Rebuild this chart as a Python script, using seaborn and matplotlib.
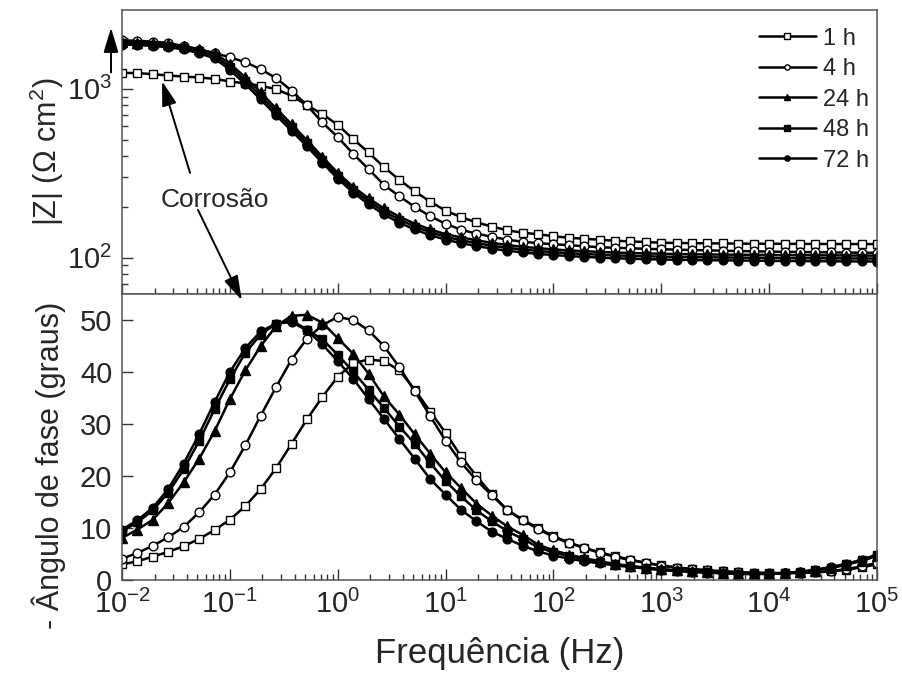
import matplotlib
matplotlib.use('Agg')
import matplotlib.pyplot as plt
import seaborn as sns
import numpy as np
from matplotlib.ticker import LogLocator, NullFormatter

sns.set_theme(style="ticks")
plt.rcParams['font.family'] = ['Liberation Sans', 'DejaVu Sans']
plt.rcParams['mathtext.fontset'] = 'custom'
plt.rcParams['mathtext.rm'] = 'Liberation Sans'
plt.rcParams['mathtext.it'] = 'Liberation Sans:italic'
plt.rcParams['mathtext.bf'] = 'Liberation Sans:bold'

# Frequency grid (Hz), 7 points per decade
freq = [0.01, 0.0139, 0.0193, 0.0268, 0.0373, 0.0518, 0.072,
        0.1, 0.139, 0.193, 0.268, 0.373, 0.518, 0.72,
        1.0, 1.39, 1.93, 2.68, 3.73, 5.18, 7.2,
        10, 13.9, 19.3, 26.8, 37.3, 51.8, 72,
        100, 139, 193, 268, 373, 518, 720,
        1000, 1390, 1930, 2680, 3730, 5180, 7200,
        10000, 13900, 19300, 26800, 37300, 51800, 72000,
        100000]

# |Z| (ohm cm2)
z_1h = [1244, 1239, 1222, 1199, 1183, 1167, 1146, 1105, 1078, 1042,
        996, 909, 799, 709, 612, 504, 420, 344, 289, 247,
        215, 190, 174, 162, 153, 145.5, 140.6, 137.8, 134.1, 131.3,
        129.6, 127.8, 126.1, 124.9, 123.9, 122.7, 122.3, 122.0, 121.7, 121.5,
        121.3, 121.1, 121.0, 120.9, 120.8, 120.7, 120.6, 120.5, 120.5, 120.4]
z_4h = [1936, 1925, 1905, 1868, 1790, 1705, 1626, 1539, 1437, 1308,
        1157, 977, 799, 632, 518, 412, 335, 270, 231, 200,
        176, 159, 146.5, 139, 133, 128, 124.4, 122, 120.3, 118.7,
        117, 115.4, 114.6, 113.8, 113, 112.3, 111.7, 111.1, 110.6, 110.1,
        109.6, 109.2, 108.8, 108.4, 108.1, 107.8, 107.5, 107.3, 107.1, 107.0]
z_24h = [1890, 1880, 1858, 1836, 1792, 1718, 1625, 1410, 1170, 955,
         765, 618, 496, 396, 318, 263, 225, 196, 175, 159,
         147, 138, 132, 127, 122.5, 119, 116, 114, 112, 110.5,
         109.3, 108.3, 107.4, 106.7, 106.1, 105.6, 105.2, 104.9, 104.6, 104.4,
         104.2, 104.0, 103.8, 103.6, 103.5, 103.3, 103.2, 103.1, 103.0, 102.9]
z_48h = [1858, 1846, 1821, 1797, 1748, 1667, 1568, 1350, 1115, 909,
         731, 592, 476, 380, 306, 253, 216, 188, 168, 153,
         141.6, 133.1, 126.9, 122.2, 117.8, 114.6, 111.8, 109.7, 107.9, 106.5,
         105.2, 104.2, 103.3, 102.6, 102.1, 101.5, 101.2, 100.9, 100.6, 100.4,
         100.2, 100.0, 99.8, 99.6, 99.5, 99.3, 99.2, 99.1, 99.0, 98.9]
z_72h = [1830, 1818, 1792, 1765, 1712, 1625, 1515, 1295, 1065, 866,
         697, 565, 456, 365, 294, 243, 207.5, 180.5, 161, 147,
         136, 128, 122, 117.4, 113.2, 110.1, 107.5, 105.4, 103.7, 102.4,
         101.2, 100.2, 99.3, 98.7, 98.2, 97.6, 97.3, 97.0, 96.7, 96.5,
         96.3, 96.1, 95.9, 95.7, 95.6, 95.4, 95.3, 95.2, 95.1, 95.0]

# - phase angle (degrees)
ph_1h = [3.0, 3.6, 4.5, 5.4, 6.5, 7.9, 9.6, 11.6, 14.2, 17.5,
         21.5, 26.2, 30.9, 35.2, 39.1, 41.7, 42.4, 42.1, 40.3, 36.6,
         32.4, 28.3, 23.8, 20.0, 16.5, 13.5, 11.6, 10.0, 8.4, 7.2,
         6.2, 5.3, 4.6, 3.9, 3.3, 2.8, 2.4, 2.1, 1.85, 1.65,
         1.5, 1.4, 1.3, 1.3, 1.35, 1.45, 1.65, 1.95, 2.45, 3.0]
ph_4h = [4.1, 5.2, 6.6, 8.2, 10.2, 13.0, 16.4, 20.7, 25.9, 31.6,
         37.1, 42.4, 46.4, 49.0, 50.6, 50.0, 48.0, 45.0, 40.9, 36.3,
         31.5, 26.8, 22.6, 19.2, 16.3, 13.4, 11.5, 9.8, 8.3, 7.1,
         6.2, 5.2, 4.5, 3.8, 3.3, 2.75, 2.4, 2.1, 1.85, 1.65,
         1.5, 1.4, 1.35, 1.35, 1.4, 1.5, 1.7, 2.1, 2.6, 3.3]
ph_24h = [8.1, 9.7, 11.6, 14.8, 18.8, 23.3, 28.6, 34.8, 40.3, 45.0,
          48.8, 50.8, 51.0, 49.5, 46.5, 43.5, 39.7, 35.3, 31.8, 28.0,
          24.3, 20.7, 17.7, 14.7, 12.4, 10.3, 8.7, 6.8, 5.7, 4.9,
          4.2, 3.6, 3.1, 2.7, 2.4, 2.1, 1.9, 1.7, 1.5, 1.35,
          1.25, 1.2, 1.2, 1.3, 1.5, 1.8, 2.3, 2.9, 3.7, 4.6]
ph_48h = [9.4, 11.1, 13.4, 16.8, 21.3, 26.7, 32.8, 38.6, 43.7, 47.2,
          49.3, 50.0, 48.1, 46.3, 43.3, 40.1, 36.6, 33.1, 29.5, 26.2,
          22.5, 19.0, 16.1, 13.4, 11.3, 9.4, 7.9, 6.3, 5.3, 4.6,
          4.0, 3.4, 3.0, 2.6, 2.3, 2.0, 1.8, 1.6, 1.45, 1.3,
          1.2, 1.15, 1.2, 1.3, 1.5, 1.9, 2.4, 3.0, 3.8, 4.8]
ph_72h = [9.7, 11.5, 13.9, 17.5, 22.4, 28.0, 34.2, 40.0, 44.6, 47.8,
          49.3, 49.6, 48.0, 45.3, 42.1, 38.7, 34.8, 31.0, 27.1, 23.3,
          19.4, 16.4, 13.5, 11.3, 9.3, 7.9, 6.6, 5.5, 4.7, 4.1,
          3.6, 3.2, 2.8, 2.5, 2.2, 1.9, 1.7, 1.55, 1.4, 1.3,
          1.2, 1.15, 1.2, 1.35, 1.6, 2.0, 2.5, 3.1, 3.9, 4.9]

labels = ['1 h', '4 h', '24 h', '48 h', '72 h']
markers = ['s', 'o', '^', 's', 'o']
faces = ['white', 'white', 'black', 'black', 'black']
z_all = [z_1h, z_4h, z_24h, z_48h, z_72h]
ph_all = [ph_1h, ph_4h, ph_24h, ph_48h, ph_72h]
phase_ticks = [0, 10, 20, 30, 40, 50]

fig = plt.figure(figsize=(9.02, 6.79), dpi=100)
ax1 = fig.add_axes([0.1353, 0.5670, 0.8370, 0.4183])
ax2 = fig.add_axes([0.1353, 0.1458, 0.8370, 0.4212], sharex=ax1)

for lab, mk, fc, z, ph in zip(labels, markers, faces, z_all, ph_all):
    ms = 7 if mk == '^' else 6.3
    sns.lineplot(x=freq, y=z, ax=ax1, color='black', marker=mk, mfc=fc,
                 mec='black', ms=ms, mew=1.0, lw=1.8, label=lab)
    sns.lineplot(x=freq, y=ph, ax=ax2, color='black', marker=mk, mfc=fc,
                 mec='black', ms=ms, mew=1.0, lw=1.8, legend=False)

ax1.set_xscale('log')
ax1.set_yscale('log')
ax1.set_xlim(1e-2, 1e5)
ax1.set_ylim(61, 2930)
ax2.set_ylim(0, 55)
ax2.set_yticks(phase_ticks)

for ax in (ax1, ax2):
    ax.xaxis.set_major_locator(LogLocator(base=10, numticks=12))
    ax.xaxis.set_minor_locator(LogLocator(base=10, subs=np.arange(2, 10), numticks=100))
    ax.xaxis.set_minor_formatter(NullFormatter())
    ax.tick_params(which='both', direction='in', top=False, right=False,
                   color='#333333', width=1.0)
    ax.tick_params(which='major', length=8, labelsize=21, pad=7)
    ax.tick_params(which='minor', length=4)
    for sp in ax.spines.values():
        sp.set_color('#555555')
        sp.set_linewidth(1.1)
    ax.set_xlabel('')

ax1.yaxis.set_major_locator(LogLocator(base=10, numticks=10))
ax1.yaxis.set_minor_locator(LogLocator(base=10, subs=np.arange(2, 10), numticks=100))
ax1.yaxis.set_minor_formatter(NullFormatter())
ax1.tick_params(axis='x', labelbottom=False)

ax1.set_ylabel('|Z| (Ω cm$^2$)', fontsize=22)
ax1.yaxis.set_label_coords(-0.074, 0.5)
ax2.set_ylabel('- Ângulo de fase (graus)', fontsize=22)
ax2.yaxis.set_label_coords(-0.074, 0.40)
ax2.set_xlabel('Frequência (Hz)', fontsize=25)
ax2.xaxis.set_label_coords(0.5, -0.2)

leg = ax1.legend(loc='upper right', bbox_to_anchor=(1.008, 0.988), frameon=False,
                 fontsize=17, handlelength=2.4, handletextpad=0.3, labelspacing=0.36,
                 markerscale=0.6, borderaxespad=0.2)

# annotations
arrow_kw = dict(arrowstyle='-|>,head_length=1.0,head_width=0.3', color='black',
                lw=1.4, mutation_scale=15, shrinkA=0, shrinkB=0)
ax1.text(0.073, 220, 'Corrosão', fontsize=19, ha='center', va='center')
ax1.annotate('', xy=(0.0235, 1110), xytext=(0.0427, 318), arrowprops=arrow_kw)
ax2.annotate('', xy=(0.129, 53.8), xytext=(0.0506, 192),
             textcoords=ax1.transData, arrowprops=arrow_kw, annotation_clip=False)
ax1.annotate('', xy=(0.0079, 2300), xytext=(0.0079, 1250),
             arrowprops=arrow_kw, annotation_clip=False)

fig.savefig('out.png', dpi=100)
